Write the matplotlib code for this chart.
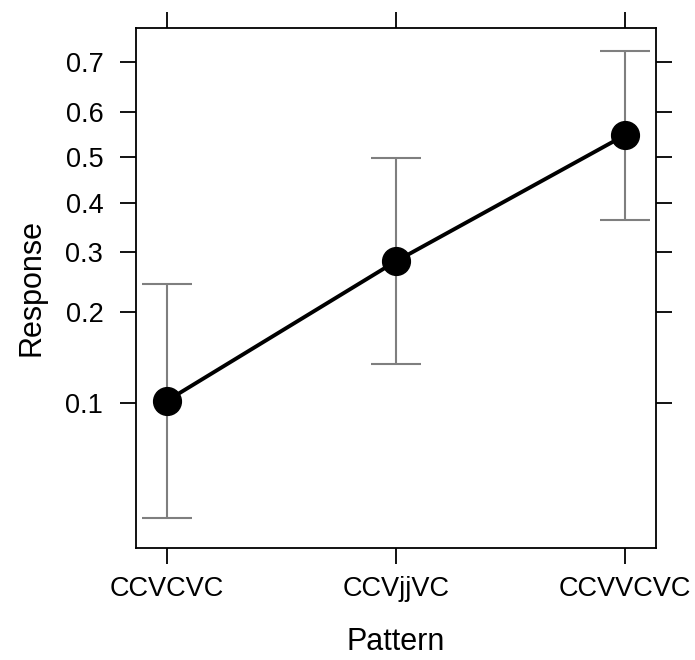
import matplotlib
matplotlib.use("Agg")
import matplotlib.pyplot as plt
import numpy as np

patterns = ["CCVCVC", "CCVjjVC", "CCVVCVC"]
fit = [0.102, 0.283, 0.549]
lower = [0.0384, 0.136, 0.363]
upper = [0.243, 0.498, 0.720]
yticks = [0.1, 0.2, 0.3, 0.4, 0.5, 0.6, 0.7]

plt.rcParams['font.family'] = ['Liberation Sans', 'DejaVu Sans']

fig = plt.figure(figsize=(6.95, 6.6), dpi=100)
ax = fig.add_axes([136/695, 1-548/660, (656-136)/695, (548-28)/660])
x = np.arange(len(patterns))
fit_a = np.array(fit)
yerr = np.vstack([fit_a - np.array(lower), np.array(upper) - fit_a])
ax.errorbar(x, fit, yerr=yerr, fmt='none', ecolor='#7f7f7f', elinewidth=1.5,
            capsize=18, capthick=1.5, zorder=1)
ax.plot(x, fit, color='black', lw=2.8, marker='o', markersize=20, zorder=3)

ax.set_yscale('logit')
ax.set_ylim(0.0296, 0.76)
ax.set_xlim(-0.135, 2.135)
ax.set_yticks(yticks)
ax.set_yticklabels([str(t) for t in yticks])
ax.yaxis.set_minor_locator(matplotlib.ticker.NullLocator())
ax.yaxis.set_minor_formatter(matplotlib.ticker.NullFormatter())
ax.set_xticks(x)
ax.set_xticklabels(patterns)
ax.tick_params(axis='both', which='major', direction='out', length=11.5, width=1.3,
               labelsize=19.5, top=True, right=True)
ax.tick_params(axis='y', pad=12)
ax.tick_params(axis='x', pad=9)
for s in ax.spines.values():
    s.set_linewidth(1.3)
ax.set_xlabel("Pattern", fontsize=22, labelpad=18)
ax.set_ylabel("Response", fontsize=22, labelpad=14)
fig.savefig("out.png", dpi=100)
